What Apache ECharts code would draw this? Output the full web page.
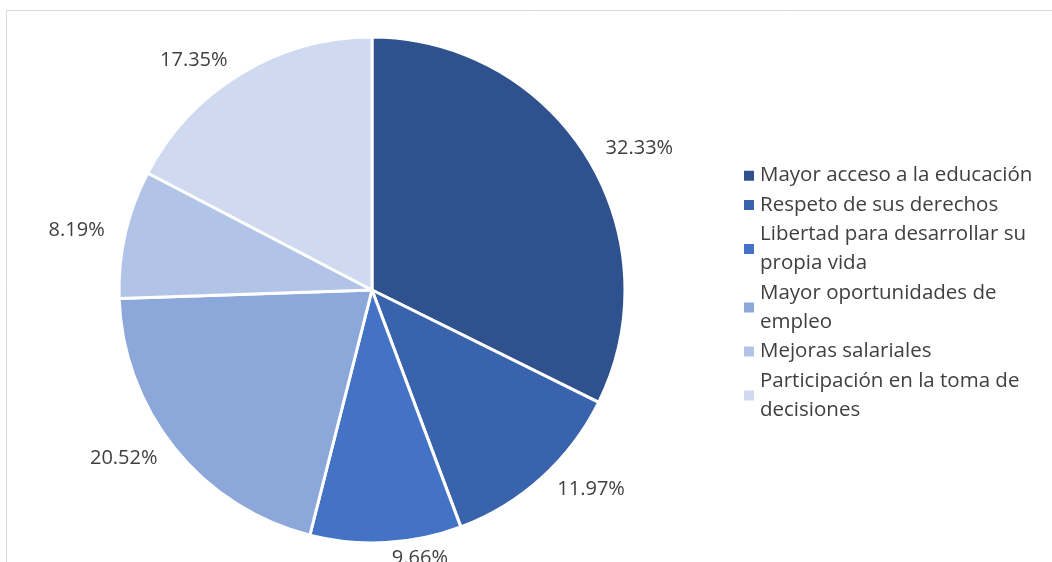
<!DOCTYPE html>
<html>
<head>
<meta charset="utf-8">
<script src="https://cdn.jsdelivr.net/npm/echarts@6/dist/echarts.min.js"></script>
<style>
html,body{margin:0;padding:0;background:#fff;}
#chart{width:1052px;height:562px;}
</style>
</head>
<body>
<div id="chart"></div>
<script>
const categories = [
  "Mayor acceso a la educación",
  "Respeto de sus derechos",
  "Libertad para desarrollar su propia vida",
  "Mayor oportunidades de empleo",
  "Mejoras salariales",
  "Participación en la toma de decisiones"
];
const legendLabels = [
  "Mayor acceso a la educación",
  "Respeto de sus derechos",
  "Libertad para desarrollar su\npropia vida",
  "Mayor oportunidades de\nempleo",
  "Mejoras salariales",
  "Participación en la toma de\ndecisiones"
];
const values = [32.33, 11.97, 9.66, 20.52, 8.19, 17.35];
const colors = ["#2F528F", "#3A63AE", "#4472C4", "#8CA8DB", "#B1C4E7", "#CFDAF0"];

const chart = echarts.init(document.getElementById('chart'));
const FONT = '"Open Sans", sans-serif';
chart.setOption({
  animation: false,
  color: colors,
  graphic: [{
    type: 'rect',
    shape: {x: 6.5, y: 10.5, width: 1200, height: 700},
    style: {fill: 'none', stroke: '#d9d9d9', lineWidth: 1},
    silent: true
  }],
  legend: {
    orient: 'vertical',
    left: 737,
    top: 156,
    itemWidth: 12,
    itemHeight: 12,
    itemGap: 0,
    icon: 'rect',
    formatter: function (name) {
      return legendLabels[categories.indexOf(name)];
    },
    textStyle: {
      fontFamily: FONT,
      fontSize: 20.5,
      lineHeight: 29.3,
      color: '#404040',
      padding: [0, 0, 0, 0]
    },
    data: categories
  },
  series: [{
    type: 'pie',
    center: [372, 290],
    radius: [0, 253],
    startAngle: 90,
    clockwise: true,
    avoidLabelOverlap: false,
    itemStyle: {borderColor: '#ffffff', borderWidth: 3},
    label: {
      show: true,
      position: 'outside',
      fontFamily: FONT,
      fontSize: 20,
      color: '#404040',
      formatter: function (p) { return p.value.toFixed(2) + '%'; }
    },
    labelLine: {show: false, length: 16, length2: 0},
    emphasis: {disabled: true},
    data: categories.map(function (c, i) { return {name: c, value: values[i]}; })
  }]
});
</script>
</body>
</html>
